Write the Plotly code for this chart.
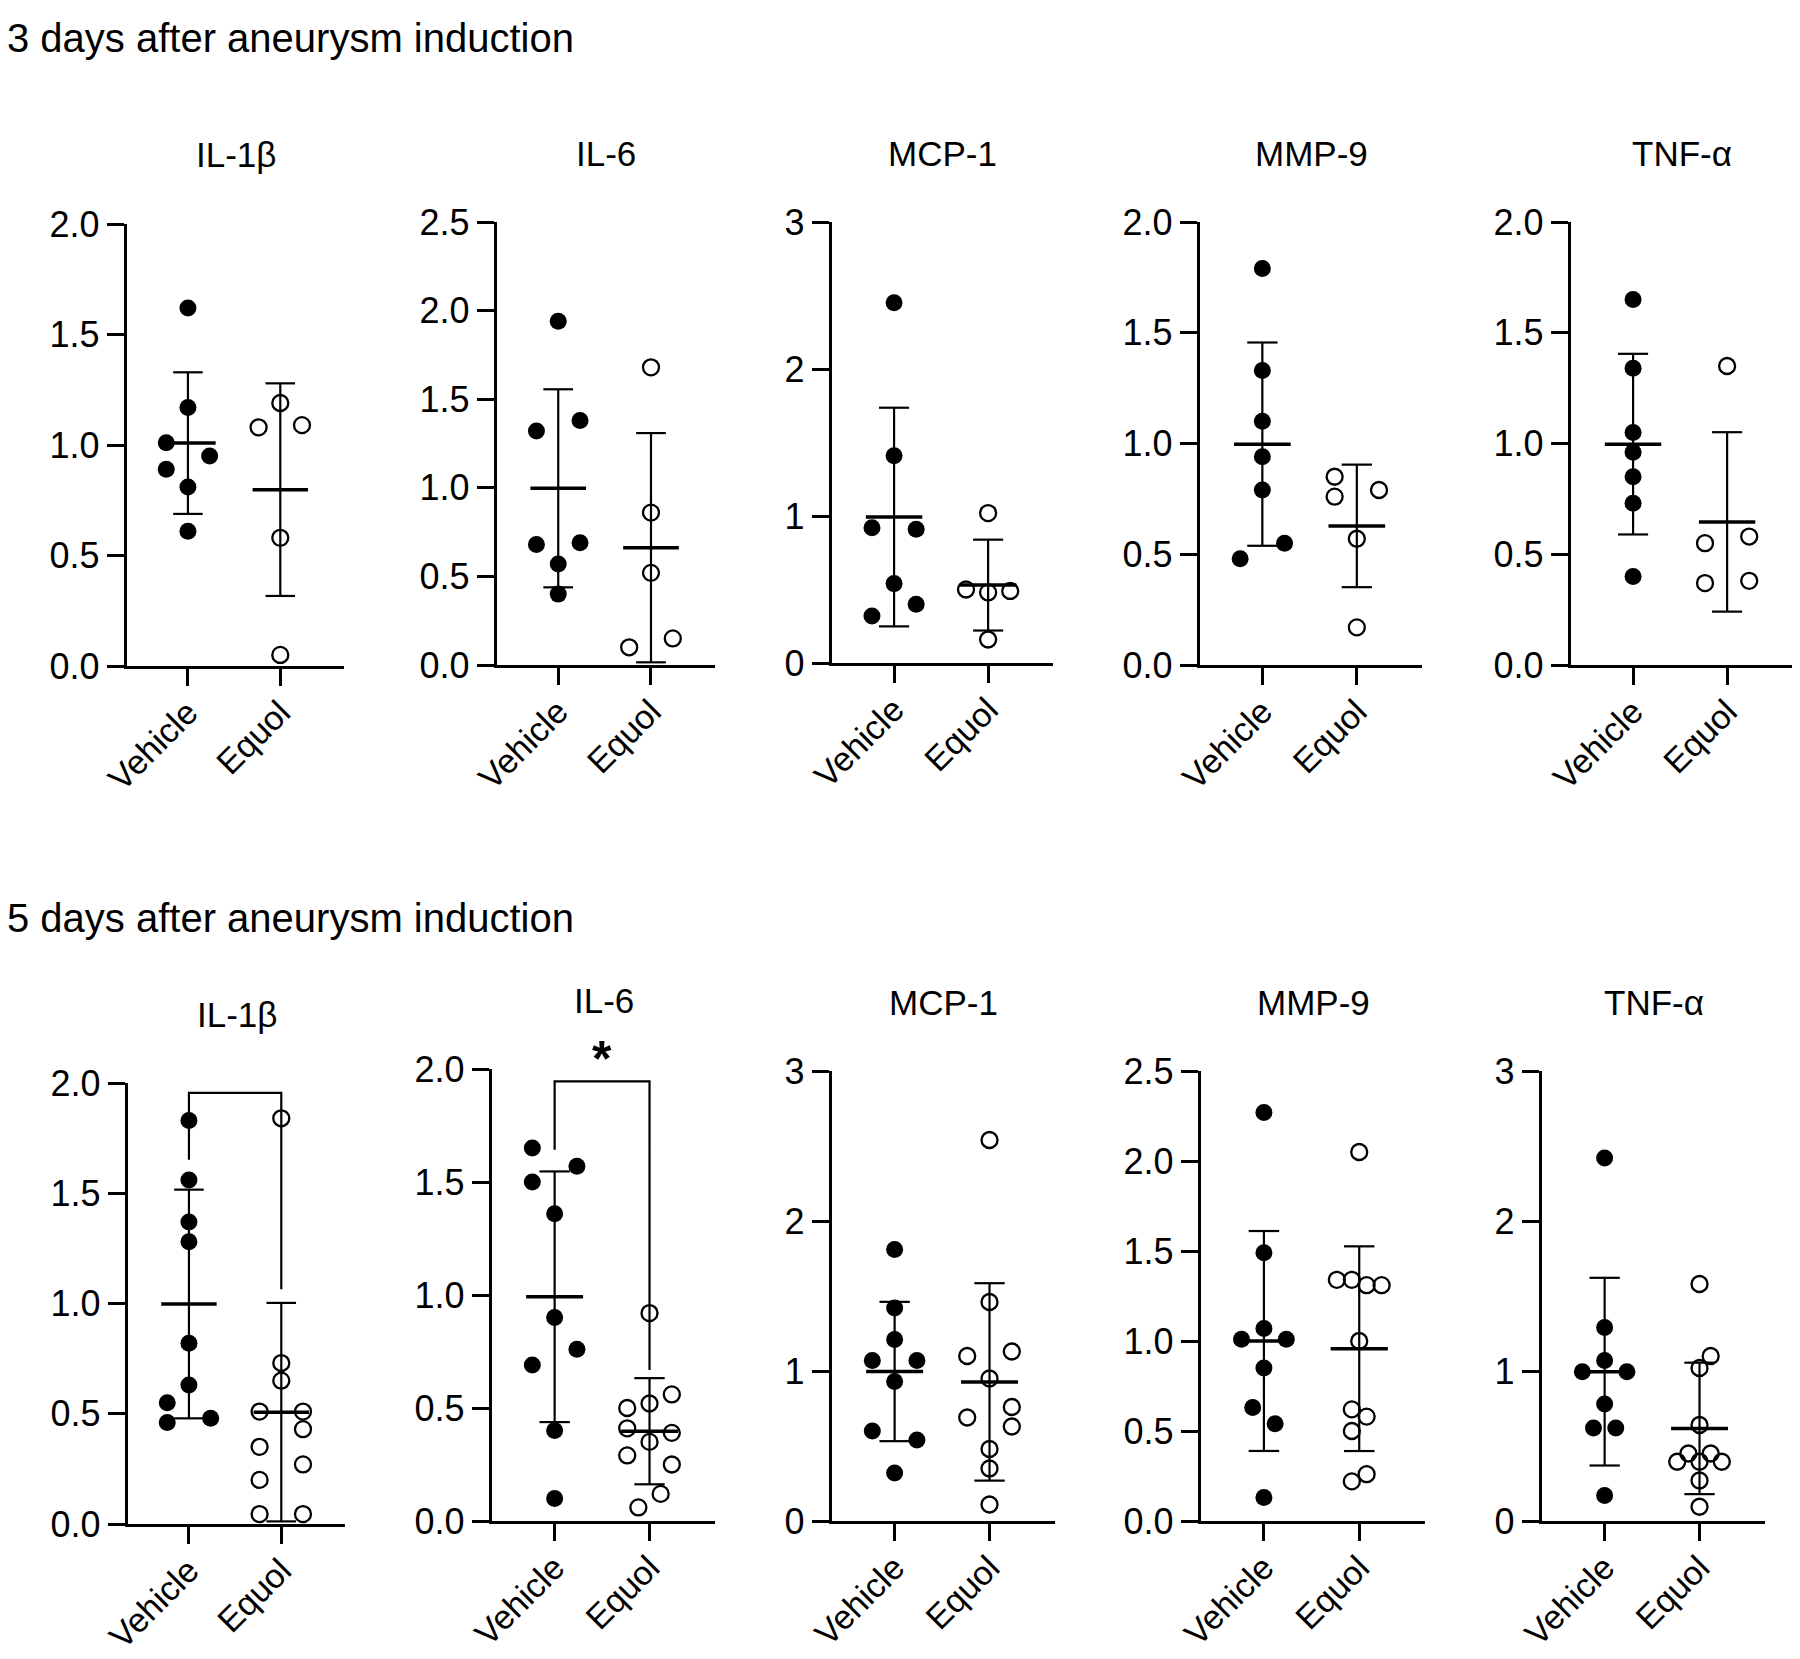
import numpy as np
import plotly.graph_objects as go

# ---------------- data ----------------
GROUPS = ["Vehicle", "Equol"]
MARKERS = ["IL-1β", "IL-6", "MCP-1", "MMP-9", "TNF-α"]
ROW_TITLES = ["3 days after aneurysm induction", "5 days after aneurysm induction"]

# 3 days
D3_IL1B_VEH = [1.62, 1.17, 1.01, 0.95, 0.89, 0.81, 0.61]
D3_IL1B_EQU = [1.19, 1.08, 1.09, 0.58, 0.05]
D3_IL6_VEH = [1.94, 1.32, 1.38, 0.68, 0.69, 0.57, 0.40]
D3_IL6_EQU = [1.68, 0.86, 0.52, 0.10, 0.15]
D3_MCP1_VEH = [2.45, 1.41, 0.92, 0.91, 0.54, 0.40, 0.32]
D3_MCP1_EQU = [1.02, 0.50, 0.48, 0.49, 0.16]
D3_MMP9_VEH = [1.79, 1.33, 1.10, 0.94, 0.79, 0.55, 0.48]
D3_MMP9_EQU = [0.85, 0.76, 0.79, 0.57, 0.17]
D3_TNFA_VEH = [1.65, 1.34, 1.05, 0.96, 0.85, 0.73, 0.40]
D3_TNFA_EQU = [1.35, 0.55, 0.58, 0.37, 0.38]

# 5 days
D5_IL1B_VEH = [1.83, 1.56, 1.37, 1.28, 0.82, 0.63, 0.55, 0.46, 0.48]
D5_IL1B_EQU = [1.84, 0.73, 0.65, 0.51, 0.51, 0.43, 0.35, 0.27, 0.20, 0.045, 0.045]
D5_IL6_VEH = [1.65, 1.50, 1.57, 1.36, 0.90, 0.76, 0.69, 0.40, 0.10]
D5_IL6_EQU = [0.92, 0.56, 0.52, 0.50, 0.41, 0.39, 0.35, 0.29, 0.25, 0.12, 0.06]
D5_MCP1_VEH = [1.81, 1.42, 1.21, 1.07, 1.07, 0.93, 0.60, 0.54, 0.32]
D5_MCP1_EQU = [2.54, 1.46, 1.10, 1.13, 0.95, 0.76, 0.69, 0.63, 0.48, 0.35, 0.11]
D5_MMP9_VEH = [2.27, 1.49, 1.07, 1.01, 1.01, 0.85, 0.63, 0.54, 0.13]
D5_MMP9_EQU = [2.05, 1.34, 1.34, 1.31, 1.31, 1.00, 0.62, 0.58, 0.50, 0.26, 0.22]
D5_TNFA_VEH = [2.42, 1.29, 1.07, 0.995, 0.995, 0.78, 0.62, 0.62, 0.17]
D5_TNFA_EQU = [1.58, 1.10, 1.02, 0.64, 0.45, 0.45, 0.395, 0.395, 0.395, 0.27, 0.095]

# axis maxima and tick steps
Y_MAX = [2.0, 2.5, 3, 2.0, 2.0, 2.0, 2.0, 3, 2.5, 3]
Y_DTICK = [0.5, 0.5, 1, 0.5, 0.5, 0.5, 0.5, 1, 0.5, 1]

# significance brackets (bracket top, left leg end, right leg end, label)
BRACKETS = {5: (1.955, 1.652, 1.065, ""), 6: (1.945, 1.643, 0.668, "*")}

# ---------------- layout / style ----------------
# horizontal spread slots of the scatter points (column-scatter layout)
SLOTS = [
    ([0, 0, -1, 1, -1, 0, 0], [0, -1, 1, 0, 0]),
    ([0, -1, 1, -1, 1, 0, 0], [0, 0, 0, -1, 1]),
    ([0, 0, -1, 1, 0, 1, -1], [0, -1, 0, 1, 0]),
    ([0, 0, 0, 0, 0, 1, -1], [-1, -1, 1, 0, 0]),
    ([0, 0, 0, 0, 0, 0, 0], [0, -1, 1, -1, 1]),
    ([0, 0, 0, 0, 0, 0, -1, -1, 1], [0, 0, 0, -1, 1, 1, -1, 1, -1, -1, 1]),
    ([-1, -1, 1, 0, 0, 1, -1, 0, 0], [0, 1, 0, -1, -1, 1, 0, -1, 1, 0.5, -0.5]),
    ([0, 0, 0, -1, 1, 0, -1, 1, 0], [0, 0, -1, 1, 0, 1, -1, 1, 0, 0, 0]),
    ([0, 0, 0, -1, 1, 0, -0.5, 0.5, 0], [0, -1, -0.33, 0.33, 1, 0, -0.33, 0.33, -0.33, 0.33, -0.33]),
    ([0, 0, 0, -1, 1, 0, -0.5, 0.5, 0], [0, 0.5, 0, 0, -0.5, 0.5, -1, 0, 1, 0, 0]),
]
JIT = 0.235
MEAN_HW = 0.30
CAP_HW = 0.16
X_RANGE = [-0.66, 1.69]

W, H = 1800, 1659
# plot-area boxes in pixels: left, top, right, bottom
BOXES = [
    (127, 224, 344, 666), (497, 222, 715, 665), (832, 222, 1053, 663),
    (1200, 222, 1422, 665), (1571, 222, 1792, 665),
    (128, 1083, 345, 1524), (492, 1069, 715, 1521), (832, 1071, 1055, 1521),
    (1201, 1071, 1425, 1521), (1542, 1071, 1765, 1521),
]
FONT = "Liberation Sans, Arial, Helvetica, sans-serif"
BLACK = "#000000"

VEH = [D3_IL1B_VEH, D3_IL6_VEH, D3_MCP1_VEH, D3_MMP9_VEH, D3_TNFA_VEH,
       D5_IL1B_VEH, D5_IL6_VEH, D5_MCP1_VEH, D5_MMP9_VEH, D5_TNFA_VEH]
EQU = [D3_IL1B_EQU, D3_IL6_EQU, D3_MCP1_EQU, D3_MMP9_EQU, D3_TNFA_EQU,
       D5_IL1B_EQU, D5_IL6_EQU, D5_MCP1_EQU, D5_MMP9_EQU, D5_TNFA_EQU]

fig = go.Figure()
annotations = []

for i in range(10):
    ax = "" if i == 0 else str(i + 1)
    xa, ya = "x" + ax, "y" + ax
    vals = [VEH[i], EQU[i]]

    # points
    for g in range(2):
        xs = [g + s * JIT for s in SLOTS[i][g]]
        if g == 0:
            marker = dict(symbol="circle", size=17, color=BLACK, line=dict(width=0))
        else:
            marker = dict(symbol="circle-open", size=16, color=BLACK, line=dict(width=2.3, color=BLACK))
        fig.add_trace(go.Scatter(x=xs, y=vals[g], mode="markers", marker=marker,
                                 xaxis=xa, yaxis=ya, cliponaxis=False,
                                 hoverinfo="skip", showlegend=False))

    # mean and SD
    mx, my, ex, ey = [], [], [], []
    for g in range(2):
        m = float(np.mean(vals[g]))
        s = float(np.std(vals[g], ddof=1))
        mx += [g - MEAN_HW, g + MEAN_HW, None]
        my += [m, m, None]
        ex += [g, g, None, g - CAP_HW, g + CAP_HW, None, g - CAP_HW, g + CAP_HW, None]
        ey += [m - s, m + s, None, m + s, m + s, None, m - s, m - s, None]
    fig.add_trace(go.Scatter(x=ex, y=ey, mode="lines", line=dict(color=BLACK, width=2.2),
                             xaxis=xa, yaxis=ya, cliponaxis=False, hoverinfo="skip", showlegend=False))
    fig.add_trace(go.Scatter(x=mx, y=my, mode="lines", line=dict(color=BLACK, width=3.5),
                             xaxis=xa, yaxis=ya, cliponaxis=False, hoverinfo="skip", showlegend=False))

    # bracket
    if i in BRACKETS:
        top, lft, rgt, lab = BRACKETS[i]
        fig.add_trace(go.Scatter(x=[0, 0, 1, 1], y=[lft, top, top, rgt], mode="lines",
                                 line=dict(color=BLACK, width=2.2), xaxis=xa, yaxis=ya,
                                 cliponaxis=False, hoverinfo="skip", showlegend=False))
        if lab:
            annotations.append(dict(x=0.5, y=top, xref=xa, yref=ya, text="<b>" + lab + "</b>",
                                    showarrow=False, yanchor="bottom", yshift=-8,
                                    font=dict(family=FONT, size=50, color=BLACK)))

    l, t, r, b = BOXES[i]
    dom_x = [l / W, r / W]
    dom_y = [1 - b / H, 1 - t / H]
    fig.layout["xaxis" + ax] = dict(
        domain=dom_x, range=X_RANGE, anchor=ya, tickmode="array", tickvals=[0, 1],
        ticktext=GROUPS, tickangle=-45, showline=True, linewidth=3.3, linecolor=BLACK,
        ticks="outside", ticklen=17, tickwidth=3.3, tickcolor=BLACK, showgrid=False,
        zeroline=False, automargin=False,
        tickfont=dict(family=FONT, size=34, color=BLACK), fixedrange=True)
    try:
        fig.layout["xaxis" + ax].ticklabelstandoff = -7
    except Exception:
        pass
    fig.layout["yaxis" + ax] = dict(
        domain=dom_y, range=[0, Y_MAX[i]], anchor=xa, dtick=Y_DTICK[i], tick0=0,
        tickformat=".1f" if Y_DTICK[i] < 1 else "d", showline=True, linewidth=3.3,
        linecolor=BLACK, ticks="outside", ticklen=17, tickwidth=3.3, tickcolor=BLACK,
        showgrid=False, zeroline=False, automargin=False,
        tickfont=dict(family=FONT, size=36, color=BLACK), fixedrange=True)

    # panel title
    annotations.append(dict(x=(l + r) / 2 / W, y=1 - (t - 69) / H, xref="paper", yref="paper",
                            text=MARKERS[i % 5], showarrow=False, xanchor="center", yanchor="middle",
                            font=dict(family=FONT, size=35, color=BLACK)))

# row titles
for k, yc in enumerate([38, 918]):
    annotations.append(dict(x=5 / W, y=1 - yc / H, xref="paper", yref="paper", text=ROW_TITLES[k],
                            showarrow=False, xanchor="left", yanchor="middle",
                            font=dict(family=FONT, size=40, color=BLACK)))

fig.update_layout(width=W, height=H, margin=dict(l=0, r=0, t=0, b=0, autoexpand=False),
                  autosize=False, paper_bgcolor="white", plot_bgcolor="white",
                  annotations=annotations, showlegend=False)

fig.write_html("out.html", config={"displayModeBar": False},
               post_script="document.body.style.margin='0';document.body.style.overflow='hidden';")
